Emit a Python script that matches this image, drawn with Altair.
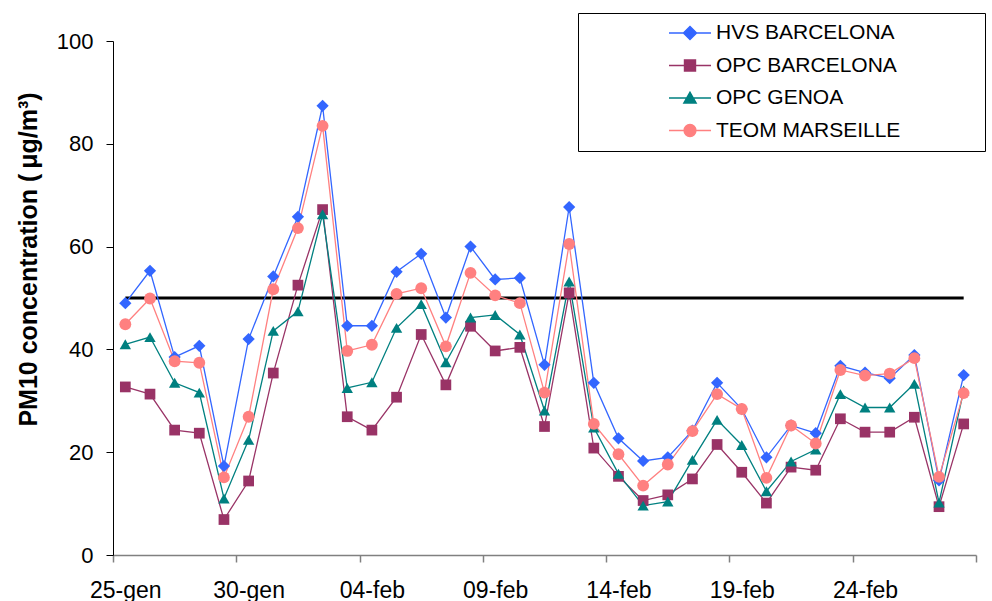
import json
import altair as alt
import pandas as pd

# ---------------- data ----------------
series_names = ["HVS BARCELONA", "OPC BARCELONA", "OPC GENOA", "TEOM MARSEILLE"]
tick_labels = ["25-gen", "30-gen", "04-feb", "09-feb", "14-feb", "19-feb", "24-feb"]
n_days = 35
limit_value = 50

hvs_bcn = [49.0, 55.3, 38.5, 40.7, 17.3, 42.0, 54.2, 65.8, 87.4, 44.6, 44.6, 55.1, 58.6, 46.2, 60.0,
           53.6, 53.9, 37.0, 67.7, 33.5, 22.7, 18.3, 19.0, 24.2, 33.5, 28.4, 19.0, 25.2, 23.7, 36.8,
           35.5, 34.4, 38.9, 14.5, 35.0]
opc_bcn = [32.7, 31.3, 24.3, 23.7, 6.9, 14.4, 35.4, 52.5, 67.2, 26.9, 24.3, 30.7, 42.9, 33.1, 44.5,
           39.7, 40.4, 25.0, 51.0, 20.8, 15.3, 10.6, 11.7, 14.8, 21.5, 16.1, 10.1, 17.1, 16.5, 26.5,
           23.9, 23.9, 26.8, 9.4, 25.5]
opc_genoa = [41.0, 42.4, 33.5, 31.6, 11.0, 22.4, 43.6, 47.4, 66.3, 32.5, 33.6, 44.2, 48.8, 37.5, 46.2,
             46.7, 42.9, 28.1, 53.2, 24.8, 15.8, 9.6, 10.4, 18.5, 26.3, 21.4, 12.4, 18.2, 20.5, 31.3,
             28.7, 28.7, 33.3, 10.2, 32.0]
teom_mrs = [44.9, 49.9, 37.7, 37.4, 15.1, 26.9, 51.7, 63.6, 83.5, 39.7, 40.9, 50.8, 51.9, 40.6, 54.9,
            50.5, 49.0, 31.6, 60.5, 25.5, 19.6, 13.5, 17.6, 24.1, 31.3, 28.4, 15.0, 25.2, 21.7, 36.0,
            34.9, 35.3, 38.3, 15.2, 31.5]

series_values = [hvs_bcn, opc_bcn, opc_genoa, teom_mrs]

rows = []
for name, vals in zip(series_names, series_values):
    for i, v in enumerate(vals):
        rows.append({"day": i, "value": v, "series": name})
df = pd.DataFrame(rows)
limit_df = pd.DataFrame({"start": [0], "end": [n_days - 1], "limit": [limit_value]})

# ---------------- style ----------------
FONT = "Liberation Sans"
colors = ["#3366FF", "#993366", "#008080", "#FF8080"]
shapes = ["diamond", "square", "triangle-up", "circle"]
sizes = [150, 115, 130, 140]
legend_paths = [
    "M-1,0H1M0,-0.31L0.31,0L0,0.31L-0.31,0Z",
    "M-1,0H1M-0.26,-0.26H0.26V0.26H-0.26Z",
    "M-1,0H1M0,-0.27L0.29,0.24L-0.29,0.24Z",
    "M-1,0H1M0.28,0A0.28,0.28,0,1,1,-0.28,0A0.28,0.28,0,1,1,0.28,0Z",
]

x_values = sorted([-0.5 + 5 * k for k in range(8)] + [5 * k for k in range(7)])
x_scale = alt.Scale(domain=[-0.5, n_days - 0.5], nice=False, zero=False)
y_scale = alt.Scale(domain=[0, 100], nice=False)

x_axis = alt.Axis(
    values=x_values,
    labelExpr=f"datum.value % 5 === 0 ? {json.dumps(tick_labels)}[datum.value / 5] : ''",
    tickOpacity={"condition": {"test": "datum.value % 1 === 0", "value": 0}, "value": 1},
    tickSize=7, tickColor="#808080", tickWidth=1.5,
    domainColor="#808080", domainWidth=1.5,
    labelFont=FONT, labelFontSize=23, labelColor="black", labelPadding=17,
    labelFlush=False, labelOverlap=False, labelAngle=0, grid=False, title=None,
)
y_axis = alt.Axis(
    values=[0, 20, 40, 60, 80, 100],
    tickSize=7, tickColor="black", domainColor="black",
    labelFont=FONT, labelFontSize=22, labelColor="black", labelPadding=13,
    grid=False,
    title="PM10 concentration (\u2009μg/m³)",
    titleFont=FONT, titleFontSize=25, titleFontWeight="bold", titleColor="black",
    titleAngle=270, titleAlign="center", titleBaseline="middle", titleX=-85, titleY=218,
)

X = alt.X("day:Q", scale=x_scale, axis=x_axis)
Y = alt.Y("value:Q", scale=y_scale, axis=y_axis)

# blank (non-trimmed) padding so the legend frame spans as wide as the original
legend = alt.Legend(
    title=None, orient="none", legendX=465, legendY=-28, direction="vertical",
    padding=9, strokeColor="black", fillColor="white", cornerRadius=0,
    symbolSize=1764, symbolStrokeWidth=1.5, symbolOpacity=1,
    symbolOffset=81, labelOffset=4, rowPadding=10.5, clipHeight=22,
    labelFont=FONT, labelFontSize=21, labelColor="black", labelLimit=0,
    labelExpr="datum.label + '" + "\u2800" * 5 + "'",
)

base = alt.Chart(df)

rule = alt.Chart(limit_df).mark_rule(color="black", strokeWidth=3).encode(
    x=alt.X("start:Q", scale=x_scale, axis=x_axis),
    x2="end:Q",
    y=alt.Y("limit:Q", scale=y_scale, axis=y_axis),
)

line_layers = []
point_layers = []
for name, col, shp, sz in zip(series_names, colors, shapes, sizes):
    sub = base.transform_filter(alt.datum.series == name)
    line_layers.append(sub.mark_line(strokeWidth=1.3, color=col).encode(x=X, y=Y))
    point_layers.append(
        sub.mark_point(filled=True, shape=shp, size=sz, opacity=1, color=col).encode(x=X, y=Y)
    )

legend_layer = base.mark_point(filled=True, opacity=0).encode(
    x=X, y=Y,
    color=alt.Color("series:N", scale=alt.Scale(domain=series_names, range=colors), legend=legend),
    stroke=alt.Stroke("series:N", scale=alt.Scale(domain=series_names, range=colors), legend=legend),
    shape=alt.Shape("series:N", scale=alt.Scale(domain=series_names, range=legend_paths), legend=legend),
)

chart = alt.layer(rule, *line_layers, *point_layers, legend_layer).properties(
    width=863, height=514,
    padding={"left": 15, "top": 12, "right": 3, "bottom": 0},
    background="white",
).configure_view(stroke=None)

chart.save("out.html", embed_options={"renderer": "svg", "actions": False})
